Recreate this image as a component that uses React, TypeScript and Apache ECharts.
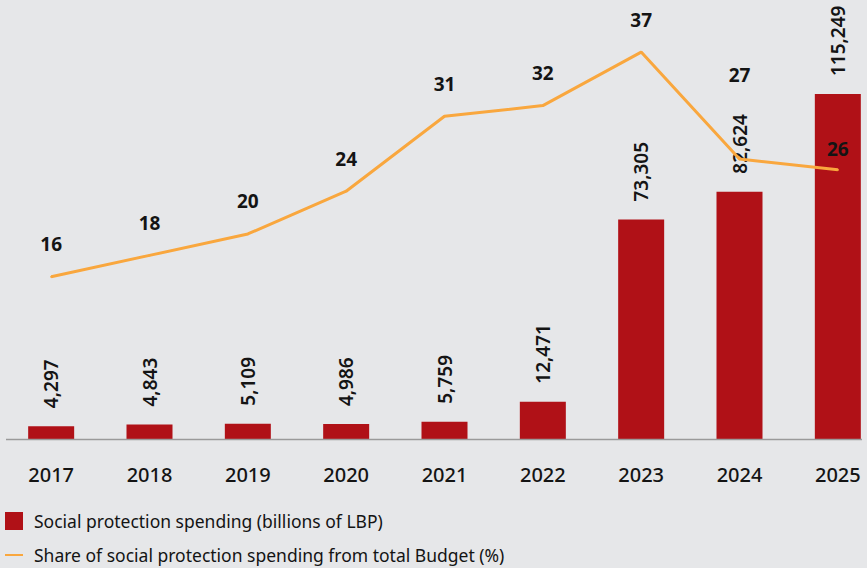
import React, { useEffect, useRef } from "react";
import * as echarts from "echarts";

const years = ["2017", "2018", "2019", "2020", "2021", "2022", "2023", "2024", "2025"];
const spending = [4297, 4843, 5109, 4986, 5759, 12471, 73305, 82624, 115249];
const share = [16, 18, 20, 24, 31, 32, 37, 27, 26];

const barName = "Social protection spending (billions of LBP)";
const lineName = "Share of social protection spending from total Budget (%)";

const RED = "#b01117";
const ORANGE = "#f9a73e";
const TEXT = "#141414";
const FONT = "'Noto Sans', 'Open Sans', sans-serif";

export default function App() {
  const ref = useRef<HTMLDivElement>(null);

  useEffect(() => {
    if (!ref.current) return;
    const chart = echarts.init(ref.current, undefined, { renderer: "svg" });

    const lineData = share.map((v, i) => {
      const distance = i === 7 ? 74 : i === 8 ? 10 : 22;
      return { value: v, label: { distance } };
    });

    chart.setOption({
      animation: false,
      backgroundColor: "#e6e7e9",
      textStyle: { fontFamily: FONT },
      grid: {
        left: 2,
        width: 885,
        top: 20,
        height: 419,
        containLabel: false,
        outerBoundsMode: "none",
      },
      legend: {
        orient: "vertical",
        left: 4,
        top: 512,
        padding: 0,
        itemWidth: 18,
        itemHeight: 18,
        itemGap: 16,
        selectedMode: false,
        textStyle: {
          fontFamily: FONT,
          fontSize: 17.5,
          color: TEXT,
          padding: [0, 0, 0, 6],
        },
        data: [
          { name: barName, icon: "rect" },
          { name: lineName, itemStyle: { opacity: 0 } },
        ],
      },
      xAxis: {
        type: "category",
        data: years,
        axisLine: { show: false },
        axisTick: { show: false },
        axisLabel: {
          margin: 25,
          fontSize: 20,
          fontWeight: 500,
          color: TEXT,
          fontFamily: FONT,
        },
      },
      yAxis: [
        { type: "value", show: false, min: 0, max: 140000, splitLine: { show: false } },
        { type: "value", show: false, min: 0.84, max: 40, splitLine: { show: false } },
      ],
      series: [
        {
          name: barName,
          type: "bar",
          data: spending,
          yAxisIndex: 0,
          barWidth: 46,
          itemStyle: { color: RED },
          label: {
            show: true,
            position: "top",
            rotate: 90,
            align: "left",
            verticalAlign: "middle",
            distance: 18,
            fontSize: 19,
            fontWeight: 600,
            color: TEXT,
            fontFamily: FONT,
            formatter: (p: any) => Number(p.value).toLocaleString("en-US"),
          },
        },
        {
          name: lineName,
          type: "line",
          data: lineData,
          yAxisIndex: 1,
          symbol: "circle",
          symbolSize: 2,
          showSymbol: true,
          z: 3,
          lineStyle: { color: ORANGE, width: 3 },
          itemStyle: { color: ORANGE },
          label: {
            show: true,
            position: "top",
            distance: 22,
            fontSize: 19,
            fontWeight: "bold",
            color: TEXT,
            fontFamily: FONT,
          },
        },
      ],
      graphic: [
        {
          type: "line",
          shape: { x1: 6, y1: 439.5, x2: 862, y2: 439.5 },
          style: { stroke: "#9a9a9a", lineWidth: 1.5 },
          z: 10,
        },
      ],
    });

    return () => chart.dispose();
  }, []);

  return (
    <div
      ref={ref}
      style={{ position: "absolute", left: 0, top: 0, width: 867, height: 568 }}
    />
  );
}
